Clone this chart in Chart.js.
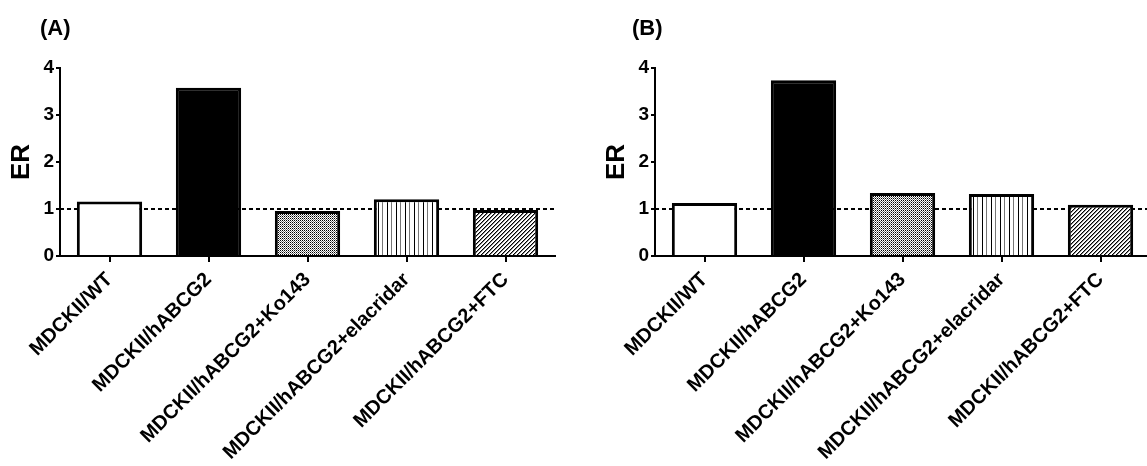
<!DOCTYPE html>
<html>
<head>
<meta charset="utf-8">
<script src="https://cdn.jsdelivr.net/npm/chart.js@4"></script>
<style>
  html, body { margin: 0; padding: 0; background: #fff; overflow: hidden; width: 1147px; height: 466px; }
  .panel { position: absolute; top: 0; }
  .tag { position: absolute; font: bold 22px "Liberation Sans", Arial, sans-serif; line-height: 22px; color: #000; }
</style>
</head>
<body>
<div class="panel" style="left:0px"><canvas id="chartA" width="565" height="466"></canvas></div>
<div class="panel" style="left:595px"><canvas id="chartB" width="565" height="466"></canvas></div>
<div class="tag" id="tagA" style="left:40px; top:17px"></div>
<div class="tag" id="tagB" style="left:632px; top:17px"></div>
<script>
// data
const categories = [
    'MDCKII/WT',
    'MDCKII/hABCG2',
    'MDCKII/hABCG2+Ko143',
    'MDCKII/hABCG2+elacridar',
    'MDCKII/hABCG2+FTC'
];
const erA = [1.16, 3.58, 0.96, 1.21, 0.98];
const erB = [1.13, 3.74, 1.34, 1.32, 1.09];
const yMin = 0;
const yMax = 4;
const yStep = 1;
const refValue = 1;
const panelTags = ['(A)', '(B)'];

const family = '"Liberation Sans", Arial, sans-serif';

document.getElementById('tagA').textContent = panelTags[0];
document.getElementById('tagB').textContent = panelTags[1];

// small tiles for the hatched bars
function makePattern(w, h, draw) {
    const c = document.createElement('canvas');
    c.width = w;
    c.height = h;
    const g = c.getContext('2d');
    g.fillStyle = '#fff';
    g.fillRect(0, 0, w, h);
    draw(g);
    return g.createPattern(c, 'repeat');
}

const checker = makePattern(4, 2, g => {
    g.fillStyle = '#000';
    g.fillRect(0, 0, 1, 1);
    g.fillRect(2, 0, 1, 1);
    g.fillStyle = '#777';
    g.fillRect(1, 1, 1, 1);
    g.fillRect(3, 1, 1, 1);
});

const stripes = makePattern(9, 1, g => {
    g.fillStyle = '#000';
    g.fillRect(0, 0, 1, 1);
    g.fillStyle = '#777';
    g.fillRect(4, 0, 1, 1);
});

const diagonal = makePattern(4, 4, g => {
    for (let i = 0; i < 4; i++) {
        g.fillStyle = '#000';
        g.fillRect(i, 3 - i, 1, 1);
        g.fillStyle = '#888';
        g.fillRect(i, (4 - i) % 4, 1, 1);
    }
});

const fills = ['#fff', '#000', checker, stripes, diagonal];

// dashed line at ER = 1, behind the bars
const refLinePlugin = {
    id: 'refLine',
    beforeDatasetsDraw(chart) {
        const { ctx, chartArea, scales } = chart;
        const y = scales.y.getPixelForValue(refValue);
        ctx.save();
        ctx.setLineDash([4, 3]);
        ctx.lineWidth = 2;
        ctx.strokeStyle = '#000';
        ctx.beginPath();
        ctx.moveTo(chartArea.left, y);
        ctx.lineTo(chartArea.right, y);
        ctx.stroke();
        ctx.restore();
    }
};

function makeChart(id, values) {
    return new Chart(document.getElementById(id), {
        type: 'bar',
        data: {
            labels: categories,
            datasets: [{
                data: values,
                backgroundColor: fills,
                borderColor: '#000',
                borderWidth: 3,
                categoryPercentage: 1,
                barPercentage: 0.66
            }]
        },
        options: {
            responsive: false,
            animation: false,
            layout: { padding: { top: 68, right: 10, left: 0, bottom: 0 } },
            plugins: {
                legend: { display: false },
                tooltip: { enabled: false }
            },
            scales: {
                x: {
                    grid: { offset: false, drawOnChartArea: false, color: '#000', lineWidth: 2, tickLength: 6 },
                    border: { color: '#000', width: 2 },
                    ticks: {
                        color: '#000',
                        font: { family: family, size: 20, weight: 'bold' },
                        minRotation: 45,
                        maxRotation: 45,
                        autoSkip: false,
                        padding: 6
                    },
                    afterFit(scale) { scale.height = 210; }
                },
                y: {
                    min: yMin,
                    max: yMax,
                    ticks: {
                        stepSize: yStep,
                        color: '#000',
                        font: { family: family, size: 19, weight: 'bold' },
                        padding: 2
                    },
                    grid: { drawOnChartArea: false, color: '#000', lineWidth: 2, tickLength: 4 },
                    border: { color: '#000', width: 2 },
                    title: {
                        display: true,
                        text: 'ER',
                        color: '#000',
                        font: { family: family, size: 26, weight: 'bold' },
                        padding: { top: 6, bottom: 0 }
                    },
                    afterFit(scale) { scale.width = 60; }
                }
            }
        },
        plugins: [refLinePlugin]
    });
}

makeChart('chartA', erA);
makeChart('chartB', erB);
</script>
</body>
</html>
